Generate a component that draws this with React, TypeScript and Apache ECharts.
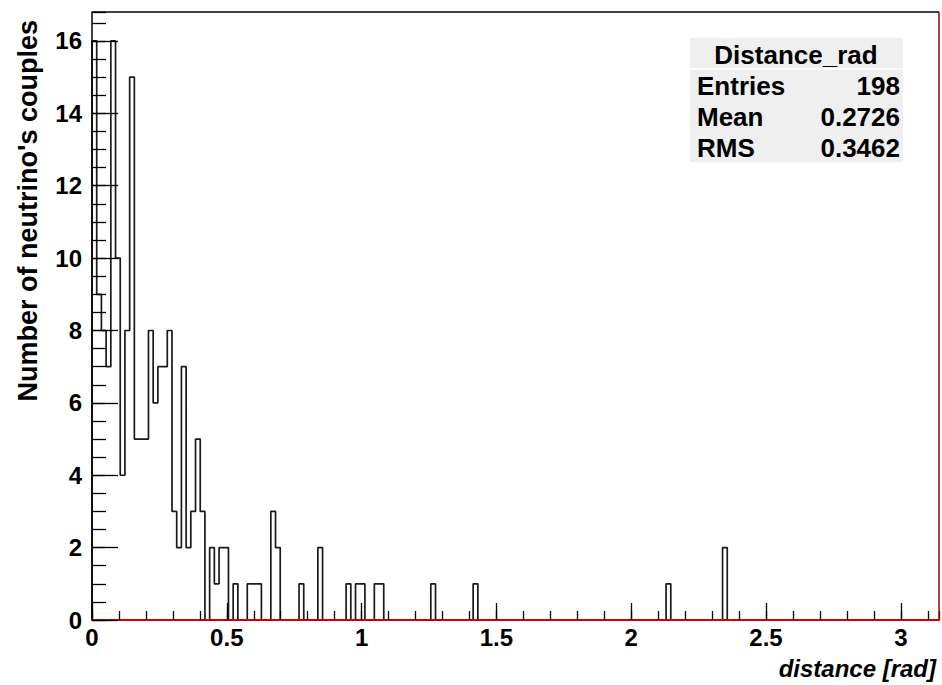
import React, { useEffect, useRef } from "react";
import * as echarts from "echarts";

// Histogram: 180 bins of 1 degree each over [0, pi] rad
const BIN_COUNT = 180;
const X_MAX = Math.PI;
const Y_MAX = 16.8;

// non-empty bins (bin index) and their contents
const filledBins = [
  0, 1, 2, 3, 4, 5, 6, 7, 8, 9, 10, 11, 12, 13, 14, 15, 16, 17, 18, 19, 20, 21, 22, 23,
  25, 26, 27, 28, 30, 33, 34, 35, 38, 39,
  44, 48, 54, 56, 57, 60, 61, 72, 81, 122, 134,
];
const filledCounts = [
  16, 9, 8, 7, 16, 10, 4, 8, 15, 5, 5, 5, 8, 6, 7, 7, 8, 3, 2, 7, 2, 3, 5, 3,
  2, 1, 2, 2, 1, 1, 1, 1, 3, 2,
  1, 2, 1, 1, 1, 1, 1, 1, 1, 1, 2,
];

const statsTitle = "Distance_rad";
const statsLabels = ["Entries", "Mean", "RMS"];
const statsValues = ["198", "0.2726", "0.3462"];

const xTitle = "distance [rad]";
const yTitle = "Number of neutrino's couples";

const FONT = "'Liberation Sans', Arial, Helvetica, sans-serif";

export default function App() {
  const ref = useRef<HTMLDivElement>(null);

  useEffect(() => {
    if (!ref.current) return;
    const chart = echarts.init(ref.current, null, { renderer: "svg" });

    const counts: number[] = new Array(BIN_COUNT).fill(0);
    filledBins.forEach((b, i) => {
      counts[b] = filledCounts[i];
    });
    const w = X_MAX / BIN_COUNT;
    const data: number[][] = [[0, 0]];
    for (let k = 0; k < BIN_COUNT; k++) data.push([k * w, counts[k]]);
    data.push([X_MAX, counts[BIN_COUNT - 1]]);

    const left = 92;
    const top = 12;
    const right = 939;
    const bottom = 620;

    const labelStyle = {
      fontSize: 24,
      fontWeight: "bold" as const,
      color: "#000",
      fontFamily: FONT,
    };

    const statsGraphics: any[] = [
      {
        type: "rect",
        shape: { x: 690, y: 38, width: 213, height: 124 },
        style: { fill: "#efefef" },
        z: 10,
      },
      {
        type: "line",
        shape: { x1: 690, y1: 69, x2: 903, y2: 69 },
        style: { stroke: "#ffffff", lineWidth: 1.5 },
        z: 11,
      },
      {
        type: "text",
        x: 796,
        y: 55,
        z: 12,
        style: {
          text: statsTitle,
          fill: "#000",
          fontSize: 26,
          fontWeight: "bold",
          fontFamily: FONT,
          textAlign: "center",
          textVerticalAlign: "middle",
          align: "center",
          verticalAlign: "middle",
        },
      },
    ];
    statsLabels.forEach((lab, i) => {
      const y = 86 + i * 31;
      statsGraphics.push({
        type: "text",
        x: 697,
        y,
        z: 12,
        style: {
          text: lab,
          fill: "#000",
          fontSize: 26,
          fontWeight: "bold",
          fontFamily: FONT,
          textAlign: "left",
          textVerticalAlign: "middle",
          align: "left",
          verticalAlign: "middle",
        },
      });
      statsGraphics.push({
        type: "text",
        x: 900,
        y,
        z: 12,
        style: {
          text: statsValues[i],
          fill: "#000",
          fontSize: 26,
          fontWeight: "bold",
          fontFamily: FONT,
          textAlign: "right",
          textVerticalAlign: "middle",
          align: "right",
          verticalAlign: "middle",
        },
      });
    });

    chart.setOption({
      animation: false,
      backgroundColor: "#ffffff",
      grid: { left, right: 942 - right, top, bottom: 685 - bottom, containLabel: false },
      xAxis: [
        {
          type: "value",
          min: 0,
          max: X_MAX,
          interval: 0.5,
          z: 5,
          axisLine: { show: true, onZero: false, lineStyle: { color: "#d40000", width: 2 } },
          axisTick: { show: true, inside: true, length: 17, lineStyle: { color: "#000", width: 1.3 } },
          axisLabel: {
            ...labelStyle,
            margin: 5,
            showMaxLabel: false,
            formatter: (v: number) => String(Math.round(v * 10) / 10),
          },
          splitLine: { show: false },
        },
        {
          type: "value",
          min: 0,
          max: X_MAX,
          interval: 0.1,
          position: "bottom",
          z: 5,
          axisLine: { show: false },
          axisTick: { show: true, inside: true, length: 9, lineStyle: { color: "#000", width: 1.3 } },
          axisLabel: { show: false },
          splitLine: { show: false },
        },
      ],
      yAxis: [
        {
          type: "value",
          min: 0,
          max: Y_MAX,
          interval: 2,
          z: 5,
          axisLine: { show: true, onZero: false, lineStyle: { color: "#000", width: 1.5 } },
          axisTick: { show: true, inside: true, length: 26, lineStyle: { color: "#000", width: 1.3 } },
          axisLabel: { ...labelStyle, margin: 10, showMaxLabel: false },
          splitLine: { show: false },
        },
        {
          type: "value",
          min: 0,
          max: Y_MAX,
          interval: 0.5,
          position: "left",
          z: 5,
          axisLine: { show: false },
          axisTick: { show: true, inside: true, length: 14, lineStyle: { color: "#000", width: 1.3 } },
          axisLabel: { show: false },
          splitLine: { show: false },
        },
      ],
      series: [
        {
          type: "line",
          step: "end",
          xAxisIndex: 0,
          yAxisIndex: 0,
          symbol: "none",
          data,
          lineStyle: { color: "#1a1a1a", width: 1.7 },
          z: 3,
        },
      ],
      graphic: [
        {
          type: "line",
          shape: { x1: left, y1: top, x2: right, y2: top },
          style: { stroke: "#000", lineWidth: 1.5 },
          z: 6,
        },
        {
          type: "line",
          shape: { x1: right, y1: top, x2: right, y2: bottom },
          style: { stroke: "#a00000", lineWidth: 1.5 },
          z: 6,
        },
        ...statsGraphics,
        {
          type: "text",
          x: 936,
          y: 668,
          z: 12,
          style: {
            text: xTitle,
            fill: "#000",
            fontSize: 24,
            fontWeight: "bold",
            fontStyle: "italic",
            fontFamily: FONT,
            textAlign: "right",
            textVerticalAlign: "middle",
            align: "right",
            verticalAlign: "middle",
          },
        },
        {
          type: "text",
          x: 28,
          y: 20,
          rotation: Math.PI / 2,
          z: 12,
          style: {
            text: yTitle,
            fill: "#000",
            fontSize: 27,
            fontWeight: "bold",
            fontFamily: FONT,
            textAlign: "right",
            textVerticalAlign: "middle",
            align: "right",
            verticalAlign: "middle",
          },
        },
      ],
    });

    return () => {
      chart.dispose();
    };
  }, []);

  return (
    <div
      ref={ref}
      style={{ position: "fixed", left: 0, top: 0, width: 942, height: 685, background: "#fff" }}
    />
  );
}
